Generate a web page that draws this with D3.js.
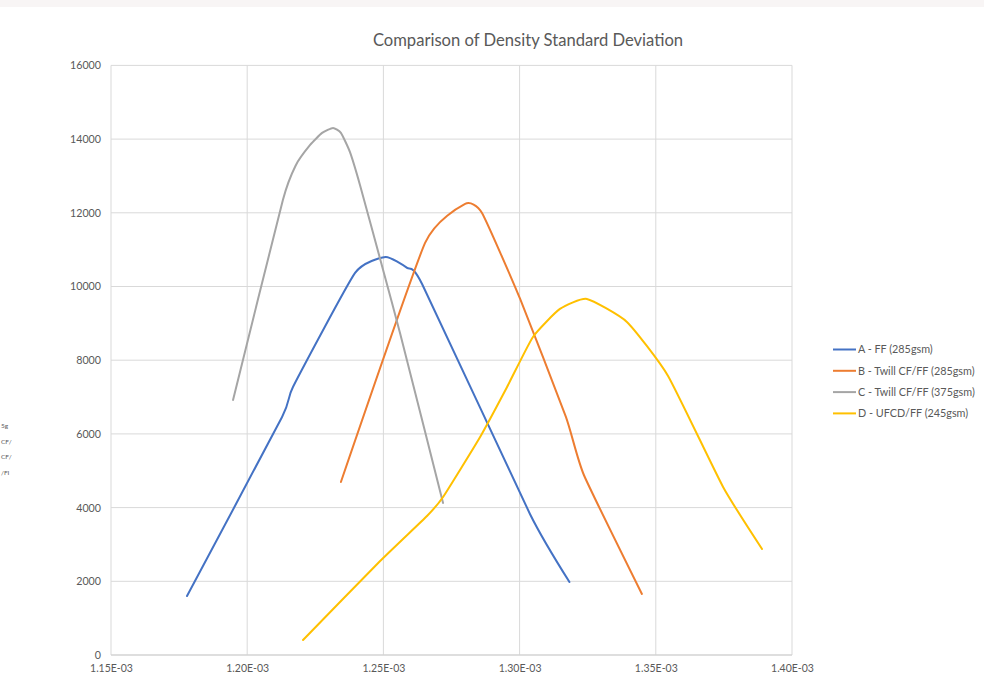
<!DOCTYPE html>
<html>
<head>
<meta charset="utf-8">
<script src="https://cdn.jsdelivr.net/npm/d3@7"></script>
<style>
  html, body { margin: 0; padding: 0; background: #ffffff; }
  svg { display: block; }
  text { font-family: Lato, "Open Sans", "Liberation Sans", sans-serif; fill: #595959; }
</style>
</head>
<body>
<svg id="chart" width="984" height="675"></svg>
<script>
// Density (g/mm³) sample points and their standard-deviation curve values, one pair of arrays per laminate
const densityA = [1.1779e-3, 1.2128e-3, 1.2168e-3, 1.2396e-3, 1.2508e-3, 1.2587e-3, 1.2642e-3, 1.3038e-3, 1.3183e-3];
const valuesA  = [1601, 6460, 7274, 10368, 10802, 10504, 10069, 3827, 1981];

const densityB = [1.2344e-3, 1.2653e-3, 1.2800e-3, 1.2862e-3, 1.3002e-3, 1.3170e-3, 1.3236e-3, 1.3449e-3];
const valuesB  = [4695, 11182, 12241, 11996, 9662, 6460, 4885, 1656];

const densityC = [1.1948e-3, 1.2131e-3, 1.2179e-3, 1.2231e-3, 1.2275e-3, 1.2315e-3, 1.2344e-3, 1.2377e-3, 1.2414e-3, 1.2491e-3, 1.2561e-3, 1.2719e-3];
const valuesC  = [6921, 12349, 13299, 13842, 14168, 14303, 14168, 13652, 12756, 10666, 8739, 4125];

const densityD = [1.2205e-3, 1.2488e-3, 1.2660e-3, 1.2719e-3, 1.2855e-3, 1.2954e-3, 1.3049e-3, 1.3148e-3, 1.3247e-3, 1.3394e-3, 1.3545e-3, 1.3747e-3, 1.3890e-3];
const valuesD  = [407, 2551, 3773, 4288, 5917, 7274, 8631, 9391, 9662, 9038, 7572, 4560, 2877];

const seriesNames = ["A - FF (285gsm)", "B - Twill CF/FF (285gsm)", "C - Twill CF/FF (375gsm)", "D - UFCD/FF (245gsm)"];
const seriesColors = ["#4472C4", "#ED7D31", "#A5A5A5", "#FFC000"];

const xTickValues = [1.15e-3, 1.20e-3, 1.25e-3, 1.30e-3, 1.35e-3, 1.40e-3];
const yTickValues = [0, 2000, 4000, 6000, 8000, 10000, 12000, 14000, 16000];

const chartTitle = "Comparison of Density Standard Deviation";
// Visible tail of a neighbouring chart's legend at the left page edge
const edgeLegendFragments = ["5g", "CF/", "CF/", "/FI"];

const series = [
  { name: seriesNames[0], xs: densityA, ys: valuesA },
  { name: seriesNames[1], xs: densityB, ys: valuesB },
  { name: seriesNames[2], xs: densityC, ys: valuesC },
  { name: seriesNames[3], xs: densityD, ys: valuesD }
];

const svg = d3.select("#chart");
const plot = { left: 111, right: 792, top: 65.4, bottom: 655 };

const x = d3.scaleLinear().domain([1.15e-3, 1.40e-3]).range([plot.left, plot.right]);
const y = d3.scaleLinear().domain([0, 16000]).range([plot.bottom, plot.top]);

// Excel-style scientific label, e.g. 1.25E-03
function sciLabel(v) {
  const exp = Math.floor(Math.log10(v) + 1e-9);
  const mant = v / Math.pow(10, exp);
  const sign = exp < 0 ? "-" : "+";
  return mant.toFixed(2) + "E" + sign + String(Math.abs(exp)).padStart(2, "0");
}

// faint page edge band
svg.append("rect").attr("x", 0).attr("y", 0).attr("width", 984).attr("height", 7).attr("fill", "#f8f5f5");

// gridlines
const grid = svg.append("g");
grid.selectAll("line.h").data(yTickValues).join("line")
  .attr("x1", plot.left).attr("x2", plot.right)
  .attr("y1", d => y(d)).attr("y2", d => y(d))
  .attr("stroke", "#d9d9d9").attr("stroke-width", 1);
grid.selectAll("line.v").data(xTickValues).join("line")
  .attr("x1", d => x(d)).attr("x2", d => x(d))
  .attr("y1", plot.top).attr("y2", plot.bottom)
  .attr("stroke", "#d9d9d9").attr("stroke-width", 1);

// axes (labels only; lines come from the grid)
const yAxis = svg.append("g").attr("transform", `translate(${plot.left - 10},0)`)
  .call(d3.axisLeft(y).tickValues(yTickValues).tickSize(0).tickPadding(0).tickFormat(d3.format("d")));
yAxis.select(".domain").remove();
yAxis.selectAll("text").attr("font-size", "10.7px").attr("fill", "#595959")
  .style("font-family", "Lato, 'Open Sans', sans-serif");

const xAxis = svg.append("g").attr("transform", `translate(0,${plot.bottom})`)
  .call(d3.axisBottom(x).tickValues(xTickValues).tickSize(0).tickPadding(10).tickFormat(sciLabel));
xAxis.select(".domain").remove();
xAxis.selectAll("text").attr("font-size", "10.5px").attr("fill", "#595959")
  .style("font-family", "Lato, 'Open Sans', sans-serif");

// bottom axis line
svg.append("line").attr("x1", plot.left).attr("x2", plot.right)
  .attr("y1", plot.bottom).attr("y2", plot.bottom)
  .attr("stroke", "#d0d0d0").attr("stroke-width", 1);

// series lines, lightly smoothed
const line = d3.line()
  .x(d => x(d[0])).y(d => y(d[1]))
  .curve(d3.curveCardinal.tension(0.5));

svg.append("g").selectAll("path").data(series).join("path")
  .attr("d", s => line(s.xs.map((v, i) => [v, s.ys[i]])))
  .attr("fill", "none")
  .attr("stroke", (s, i) => seriesColors[i])
  .attr("stroke-width", 2)
  .attr("stroke-linejoin", "round")
  .attr("stroke-linecap", "round");

// title
svg.append("text").attr("x", 528).attr("y", 46).attr("text-anchor", "middle")
  .attr("font-size", "16.6px").attr("fill", "#595959").text(chartTitle);

// legend
const legend = svg.append("g").attr("transform", "translate(833,349.5)");
const rows = legend.selectAll("g").data(seriesNames).join("g")
  .attr("transform", (d, i) => `translate(0,${i * 21.3})`);
rows.append("line").attr("x1", 0).attr("x2", 23).attr("y1", 0).attr("y2", 0)
  .attr("stroke", (d, i) => seriesColors[i]).attr("stroke-width", 2);
rows.append("text").attr("x", 25).attr("y", 0).attr("dy", "0.35em")
  .attr("font-size", "10.8px").attr("fill", "#595959").text(d => d);

// edge fragments
svg.append("g").selectAll("text").data(edgeLegendFragments).join("text")
  .attr("x", 1).attr("y", (d, i) => 428 + i * 15.5)
  .attr("font-size", "6.5px").attr("fill", "#8a8a8a")
  .text(d => d);
</script>
</body>
</html>
